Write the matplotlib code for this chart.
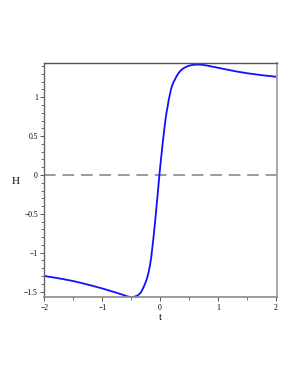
import numpy as np
import matplotlib
matplotlib.use("Agg")
import matplotlib.pyplot as plt
from matplotlib.ticker import MultipleLocator

# values
t_vals = [-2.0, -1.75, -1.5, -1.25, -1.0, -0.8, -0.65, -0.6, -0.55, -0.5,
          -0.45, -0.4, -0.36, -0.33, -0.3, -0.27, -0.245, -0.22, -0.195, -0.17,
          -0.15, -0.13, -0.11, -0.09, -0.07, -0.05, -0.03, -0.01, 0.01, 0.03,
          0.05, 0.07, 0.085, 0.1, 0.115, 0.13, 0.15, 0.17, 0.19, 0.21,
          0.235, 0.26, 0.29, 0.32, 0.36, 0.4, 0.45, 0.5, 0.56, 0.62,
          0.7, 0.8, 0.9, 1.1, 1.3, 1.5, 1.75, 2.0]
H_vals = [-1.30, -1.33, -1.365, -1.41, -1.46, -1.505, -1.54, -1.553, -1.565, -1.57,
          -1.568, -1.555, -1.535, -1.51, -1.47, -1.42, -1.375, -1.32, -1.245, -1.15,
          -1.05, -0.92, -0.79, -0.64, -0.49, -0.33, -0.165, 0.0, 0.15, 0.29,
          0.43, 0.56, 0.65, 0.74, 0.81, 0.87, 0.96, 1.03, 1.10, 1.15,
          1.195, 1.23, 1.275, 1.31, 1.345, 1.37, 1.39, 1.405, 1.415, 1.42,
          1.42, 1.41, 1.395, 1.365, 1.335, 1.31, 1.285, 1.265]

x_ticks = [-2, -1, 0, 1, 2]
y_ticks = [-1.5, -1, -0.5, 0, 0.5, 1]
y_labels = ["\u22121.5", "\u22121", "\u22120.5", "0", "0.5", "1"]
x_labels = ["\u22122", "\u22121", "0", "1", "2"]

plt.rcParams["font.family"] = ["Liberation Serif", "DejaVu Serif"]

fig = plt.figure(figsize=(2.98, 3.85), dpi=100)
ax = fig.add_axes([0.1477, 0.2278, 0.7808, 0.6078])

# zero reference line
ax.axhline(0, color="#9a9a9a", lw=1.4, dashes=(6, 3.5), zorder=1)
ax.plot(t_vals, H_vals, color="#1010ff", lw=1.3, zorder=2,
        solid_joinstyle="round")

ax.set_xlim(-2.007, 2.02)
ax.set_ylim(-1.574, 1.437)

ax.set_xticks(x_ticks)
ax.set_xticklabels(x_labels)
ax.set_yticks(y_ticks)
ax.set_yticklabels(y_labels)
ax.xaxis.set_minor_locator(MultipleLocator(0.5))
ax.yaxis.set_minor_locator(MultipleLocator(0.1))

ax.tick_params(axis="both", which="major", direction="out", length=3,
               width=0.7, color="#555555", labelsize=5.5, pad=1.5)
ax.tick_params(axis="both", which="minor", direction="out", length=2,
               width=0.6, color="#555555")

ax.spines["top"].set_color("#555555")
ax.spines["top"].set_linewidth(1.0)
ax.spines["left"].set_color("#666666")
ax.spines["left"].set_linewidth(1.0)
ax.spines["right"].set_color("#a0a0a0")
ax.spines["right"].set_linewidth(1.3)
ax.spines["bottom"].set_color("#8a8a8a")
ax.spines["bottom"].set_linewidth(1.2)

fig.text(16 / 298, 1 - 181 / 385, "H", fontsize=8, ha="center", va="center")
fig.text(160 / 298, 1 - 317 / 385, "t", fontsize=8, ha="center", va="center")

fig.savefig("out.png", dpi=100)
